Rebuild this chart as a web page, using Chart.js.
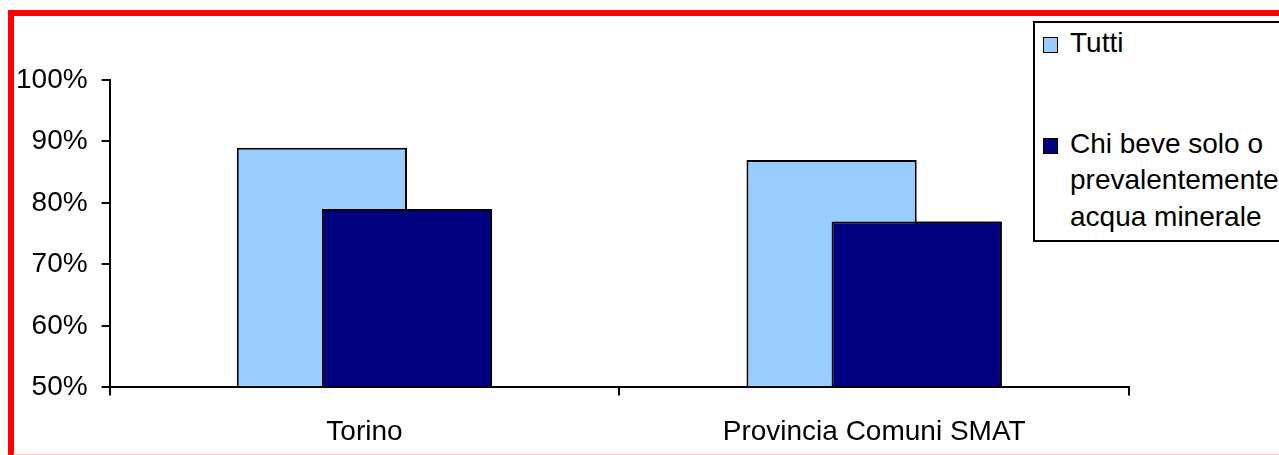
<!DOCTYPE html>
<html>
<head>
<meta charset="utf-8">
<script src="https://cdn.jsdelivr.net/npm/chart.js@4/dist/chart.umd.min.js"></script>
<style>
  html, body { margin: 0; padding: 0; background: #fff; overflow: hidden; }
  body { width: 1279px; height: 455px; position: relative; }
  #chart { position: absolute; left: 0; top: 0; }
  #frame {
    position: absolute; left: 8px; top: 10px; width: 1400px; height: 450px;
    border: 6px solid #ff0000; border-bottom-color: #ffc4c4; box-sizing: border-box; pointer-events: none;
  }
  #legend {
    position: absolute; left: 1033px; top: 21px; width: 400px; height: 221px;
    border: 2px solid #000; box-sizing: border-box; background: #fff;
    font-family: "Liberation Sans", Arial, sans-serif; font-size: 28px; line-height: 36.5px;
    color: #000;
  }
  .item { position: relative; padding-left: 35px; width: 215px; }
  .swatch {
    position: absolute; left: 8px; top: 12px; width: 13px; height: 14px;
    border: 1.5px solid #000;
  }
</style>
</head>
<body>
<canvas id="chart" width="1279" height="475"></canvas>
<div id="legend"></div>
<div id="frame"></div>
<script>
const categories = ['Torino', 'Provincia Comuni SMAT'];
const seriesNames = ['Tutti', 'Chi beve solo o prevalentemente acqua minerale'];
const tutti = [89, 87];
const acquaMinerale = [79, 77];
const seriesColors = ['#99ccff', '#000080'];
const yTicks = [50, 60, 70, 80, 90, 100];

const font = { family: '"Liberation Sans", Arial, sans-serif', size: 28 };

// dark bars sit in front of the light ones, like the original
const frontPlugin = {
  id: 'front',
  afterDatasetsDraw(chart) {
    const meta = chart.getDatasetMeta(1);
    if (!meta.visible) return;
    const a = chart.chartArea;
    const ctx = chart.ctx;
    ctx.save();
    ctx.beginPath();
    ctx.rect(a.left, a.top - 2, a.right - a.left, a.bottom - a.top + 2);
    ctx.clip();
    meta.controller.draw();
    ctx.restore();
  }
};

const chart = new Chart(document.getElementById('chart'), {
  type: 'bar',
  data: {
    labels: categories,
    datasets: [
      { label: seriesNames[0], data: tutti, backgroundColor: seriesColors[0] },
      { label: seriesNames[1], data: acquaMinerale, backgroundColor: seriesColors[1] }
    ]
  },
  options: {
    responsive: false,
    animation: false,
    devicePixelRatio: 1,
    layout: { padding: { left: 2, top: 80, right: 150, bottom: 6 } },
    datasets: {
      bar: {
        categoryPercentage: 0.334,
        barPercentage: 2,
        borderColor: '#000',
        borderWidth: 2,
        borderSkipped: false
      }
    },
    plugins: {
      legend: { display: false },
      tooltip: { enabled: false }
    },
    scales: {
      x: {
        grid: { display: true, drawOnChartArea: false, color: '#000', lineWidth: 2, tickLength: 8, offset: true },
        border: { display: true, color: '#000', width: 2, z: 1 },
        ticks: { color: '#000', font: font, padding: 20, maxRotation: 0 }
      },
      y: {
        min: yTicks[0],
        max: yTicks[yTicks.length - 1],
        afterBuildTicks(scale) { scale.ticks = yTicks.map(v => ({ value: v })); },
        grid: { display: true, drawOnChartArea: false, color: '#000', lineWidth: 2, tickLength: 8 },
        border: { display: true, color: '#000', width: 2 },
        ticks: { color: '#000', font: font, padding: 14, callback: v => v + '%' }
      }
    }
  },
  plugins: [frontPlugin]
});

// legend built from the chart's own dataset list
const legendEl = document.getElementById('legend');
chart.data.datasets.forEach((ds, i) => {
  const item = document.createElement('div');
  item.className = 'item';
  item.style.marginTop = i === 0 ? '2px' : '64px';
  const sw = document.createElement('span');
  sw.className = 'swatch';
  sw.style.background = ds.backgroundColor;
  item.appendChild(sw);
  item.appendChild(document.createTextNode(ds.label));
  legendEl.appendChild(item);
});
</script>
</body>
</html>
